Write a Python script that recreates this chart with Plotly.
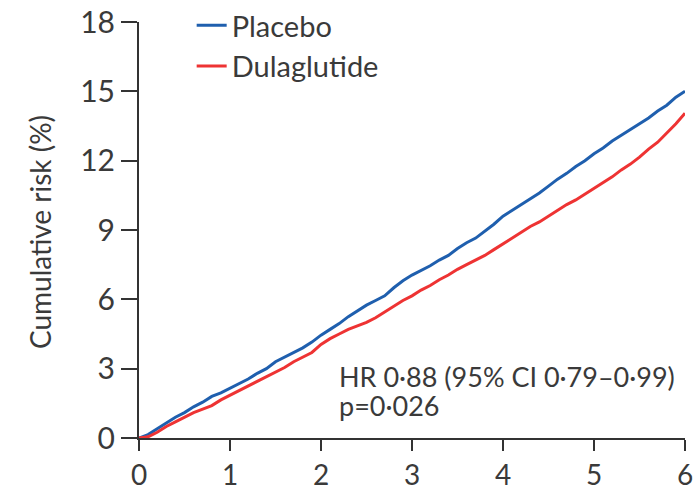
import plotly.graph_objects as go

# Follow-up time (years)
years = [0.0, 0.1, 0.2, 0.3, 0.4, 0.5, 0.6, 0.7, 0.8, 0.9,
         1.0, 1.1, 1.2, 1.3, 1.4, 1.5, 1.6, 1.7, 1.8, 1.9,
         2.0, 2.1, 2.2, 2.3, 2.4, 2.5, 2.6, 2.7, 2.8, 2.9,
         3.0, 3.1, 3.2, 3.3, 3.4, 3.5, 3.6, 3.7, 3.8, 3.9,
         4.0, 4.1, 4.2, 4.3, 4.4, 4.5, 4.6, 4.7, 4.8, 4.9,
         5.0, 5.1, 5.2, 5.3, 5.4, 5.5, 5.6, 5.7, 5.8, 5.9, 6.0]

# Cumulative risk (%)
placebo = [0.0, 0.15, 0.4, 0.65, 0.9, 1.1, 1.35, 1.55, 1.8, 1.95,
           2.15, 2.35, 2.55, 2.8, 3.0, 3.3, 3.5, 3.7, 3.9, 4.15,
           4.45, 4.7, 4.95, 5.25, 5.5, 5.75, 5.95, 6.15, 6.5, 6.8,
           7.05, 7.25, 7.45, 7.7, 7.9, 8.2, 8.45, 8.65, 8.95, 9.25,
           9.6, 9.85, 10.1, 10.35, 10.6, 10.9, 11.2, 11.45, 11.75, 12.0,
           12.3, 12.55, 12.85, 13.1, 13.35, 13.6, 13.85, 14.15, 14.4, 14.75, 15.0]

dulaglutide = [0.0, 0.05, 0.25, 0.5, 0.7, 0.9, 1.1, 1.25, 1.4, 1.65,
               1.85, 2.05, 2.25, 2.45, 2.65, 2.85, 3.05, 3.3, 3.5, 3.7,
               4.05, 4.3, 4.5, 4.7, 4.85, 5.0, 5.2, 5.45, 5.7, 5.95,
               6.15, 6.4, 6.6, 6.85, 7.05, 7.3, 7.5, 7.7, 7.9, 8.15,
               8.4, 8.65, 8.9, 9.15, 9.35, 9.6, 9.85, 10.1, 10.3, 10.55,
               10.8, 11.05, 11.3, 11.6, 11.85, 12.15, 12.5, 12.8, 13.2, 13.6, 14.05]

x_ticks = [0, 1, 2, 3, 4, 5, 6]
y_ticks = [0, 3, 6, 9, 12, 15, 18]

y_title = "Cumulative risk (%)"
hr_text = "HR 0·88 (95% CI 0·79–0·99)"
p_text = "p=0·026"

FONT = "Lato"
TEXT = "#3a3a3a"
AXIS = "#333333"

fig = go.Figure()
fig.add_trace(go.Scatter(x=years, y=placebo, mode="lines", name="Placebo",
                         line=dict(color="#1f5fae", width=3)))
fig.add_trace(go.Scatter(x=years, y=dulaglutide, mode="lines", name="Dulaglutide",
                         line=dict(color="#ee3333", width=3)))

# Hazard ratio summary, two tightly spaced lines
for txt, ypos in [(hr_text, 0.149), (p_text, 0.077)]:
    fig.add_annotation(
        x=0.363, y=ypos, xref="paper", yref="paper",
        xanchor="left", yanchor="middle", align="left", showarrow=False,
        text=txt, font=dict(family=FONT, size=27, color=TEXT),
    )

# Vertical axis title, placed to the left of the tick labels
fig.add_annotation(
    x=0, y=0.495, xref="paper", yref="paper", xshift=-99,
    xanchor="center", yanchor="middle", textangle=-90, showarrow=False,
    text=y_title, font=dict(family=FONT, size=28, color=TEXT),
)

fig.update_layout(
    width=697, height=489,
    margin=dict(l=139, r=12, t=22, b=51, autoexpand=False),
    paper_bgcolor="white", plot_bgcolor="white",
    font=dict(family=FONT, size=28, color=TEXT),
    showlegend=True,
    legend=dict(xref="container", yref="container", x=0.275, y=1.005,
                xanchor="left", yanchor="top",
                bgcolor="rgba(0,0,0,0)", font=dict(family=FONT, size=29, color=TEXT),
                tracegroupgap=0),
    xaxis=dict(range=[0, 6], tickvals=x_ticks, ticks="outside", ticklen=11,
               tickwidth=2, tickcolor=AXIS, showline=True, linewidth=2,
               linecolor=AXIS, showgrid=False, zeroline=False,
               tickfont=dict(family=FONT, size=28, color=TEXT)),
    yaxis=dict(range=[0, 18], tickvals=y_ticks, ticks="outside", ticklen=16,
               tickwidth=2, tickcolor=AXIS, showline=True, linewidth=2,
               linecolor=AXIS, showgrid=False, zeroline=False,
               tickfont=dict(family=FONT, size=30, color=TEXT)),
)

fig.write_html("out.html")
